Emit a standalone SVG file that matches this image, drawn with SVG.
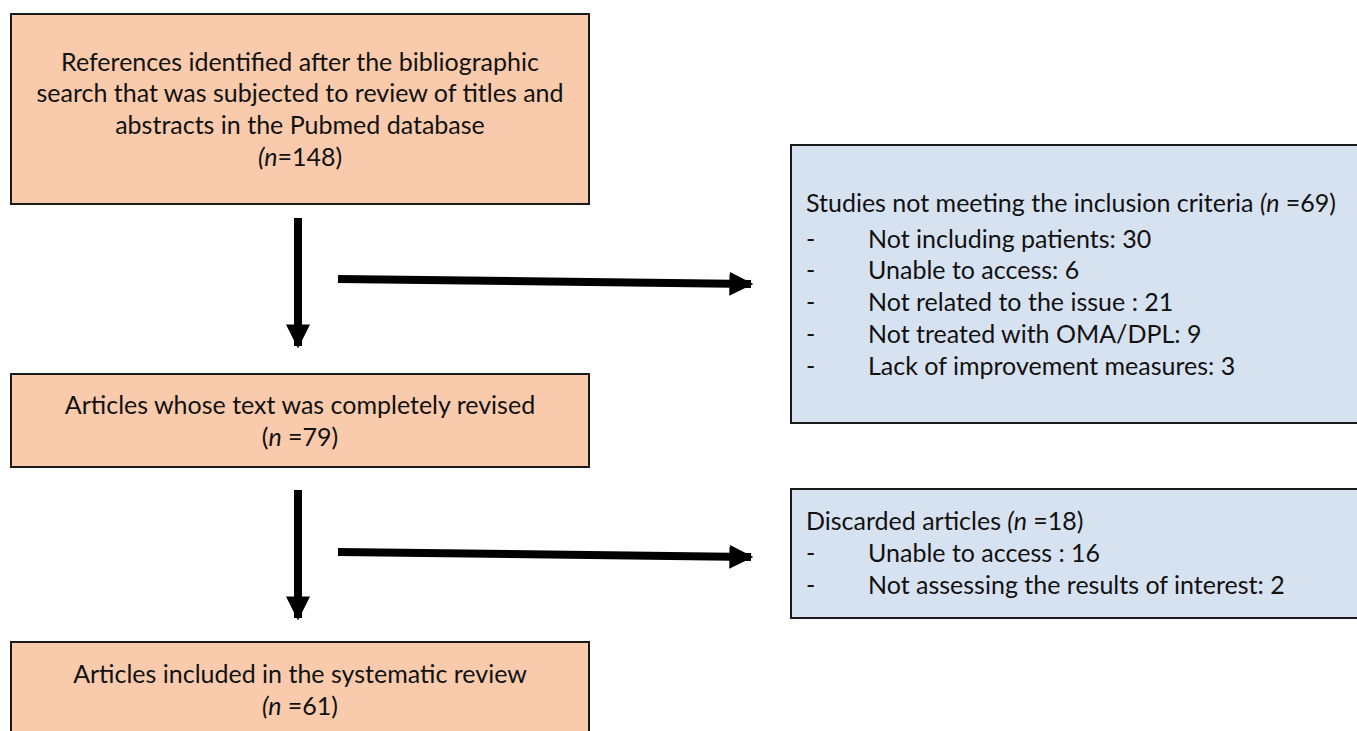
<svg xmlns="http://www.w3.org/2000/svg" width="1357" height="731" viewBox="0 0 1357 731">
<style>
.peach{fill:#F9CBAC;stroke:#1a1a1a;stroke-width:2}
.blue{fill:#D7E2F1;stroke:#1a1a1a;stroke-width:2}
text{font-family:Lato,"Liberation Sans",sans-serif;font-size:25px;fill:#111}
.c{text-anchor:middle}
.arr{stroke:#000;stroke-width:8;fill:none}
</style>
<defs>
<marker id="ah" viewBox="0 0 10 10" refX="9" refY="5" markerWidth="3" markerHeight="3.2" orient="auto" markerUnits="strokeWidth">
<path d="M0,0 L10,5 L0,10 Z" fill="#000"/>
</marker>
</defs>
<rect width="1357" height="731" fill="#fff"/>
<g id="n1">
<rect class="peach" x="11" y="14" width="578" height="190"/>
<text class="c" x="300" y="71">References identified after the bibliographic</text>
<text class="c" x="300" y="102">search that was subjected to review of titles and</text>
<text class="c" x="300" y="134">abstracts in the Pubmed database</text>
<text class="c" x="300" y="166"><tspan font-style="italic">(n</tspan>=148)</text>
</g>
<g id="n2">
<rect class="peach" x="11" y="374" width="578" height="93"/>
<text class="c" x="300" y="414">Articles whose text was completely revised</text>
<text class="c" x="300" y="446">(<tspan font-style="italic">n</tspan> =79)</text>
</g>
<g id="n3">
<rect class="peach" x="11" y="642" width="578" height="100"/>
<text class="c" x="300" y="683">Articles included in the systematic review</text>
<text class="c" x="300" y="715"><tspan font-style="italic">(n</tspan> =61)</text>
</g>
<g id="n4">
<rect class="blue" x="791" y="145" width="570" height="278"/>
<text x="806" y="212">Studies not meeting the inclusion criteria <tspan font-style="italic">(n</tspan> =69)</text>
<text x="806" y="248">-</text><text x="868" y="248">Not including patients: 30</text>
<text x="806" y="279">-</text><text x="868" y="279">Unable to access: 6</text>
<text x="806" y="311">-</text><text x="868" y="311">Not related to the issue : 21</text>
<text x="806" y="343">-</text><text x="868" y="343">Not treated with OMA/DPL: 9</text>
<text x="806" y="375">-</text><text x="868" y="375">Lack of improvement measures: 3</text>
</g>
<g id="n5">
<rect class="blue" x="791" y="489" width="570" height="129"/>
<text x="806" y="530">Discarded articles <tspan font-style="italic">(n</tspan> =18)</text>
<text x="806" y="562">-</text><text x="868" y="562">Unable to access : 16</text>
<text x="806" y="594">-</text><text x="868" y="594">Not assessing the results of interest: 2</text>
</g>
<g id="connectors">
<line class="arr" x1="298" y1="218" x2="298" y2="346" marker-end="url(#ah)"/>
<line class="arr" x1="338" y1="279" x2="751" y2="284" marker-end="url(#ah)"/>
<line class="arr" x1="298" y1="490" x2="298" y2="618" marker-end="url(#ah)"/>
<line class="arr" x1="338" y1="552" x2="751" y2="557" marker-end="url(#ah)"/>
</g>
</svg>
